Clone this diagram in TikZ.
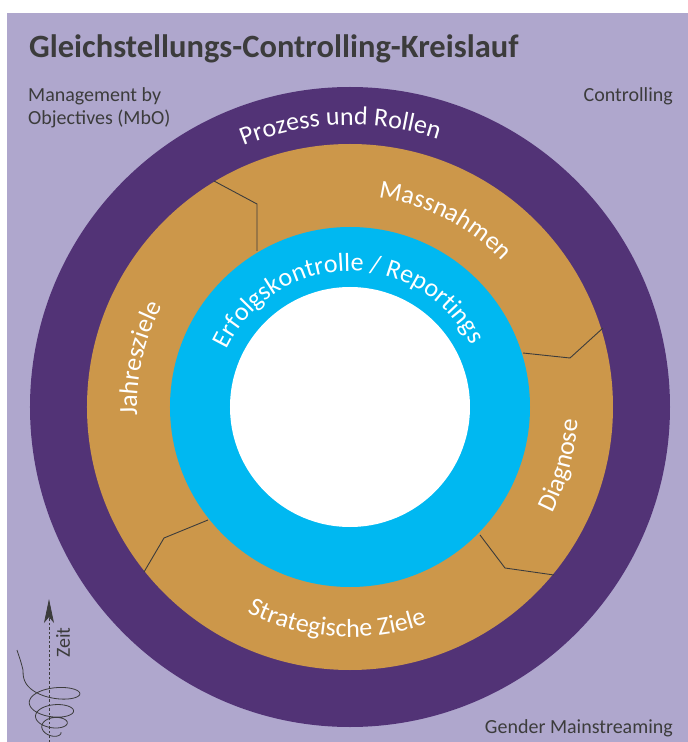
\documentclass[tikz,border=0pt]{standalone}
\usepackage{fontspec}
\setmainfont{Carlito}
\usepackage{xcolor}
\usetikzlibrary{positioning, decorations.text, arrows.meta}
\definecolor{lavender}{HTML}{AFA7CD}
\definecolor{ringpurple}{HTML}{523376}
\definecolor{ringorange}{HTML}{CC974A}
\definecolor{ringblue}{HTML}{00B8F1}
\definecolor{darktext}{HTML}{3C3C3C}
\newcommand{\ringfont}{\fontsize{26}{26}\selectfont}

\begin{document}
\begin{tikzpicture}
            [
            x=1pt, y=1pt,
            sidetext/.style={text=darktext, inner sep=0pt, font=\fontsize{20}{23}\selectfont},
            divider/.style={draw=darktext, line width=0.9pt},
            ringtext/.style={decorate, decoration={text along path, text align=center,
                text color=white, text={|\ringfont|#1}}},
            timearrow/.style={draw=darktext, line width=0.8pt, dash pattern=on 2.5pt off 2pt,
                -{Stealth[length=24pt, width=10pt, inset=6pt]}}
            ]
        \useasboundingbox (-350,407) rectangle (338,-335);
        \fill[lavender] (-343,394) rectangle (338,-335);
        % rings
        \fill[ringpurple] (0,0) circle (320);
        \fill[ringorange] (0,0) circle (263);
        \fill[ringblue] (0,0) circle (180);
        \fill[white] (0,0) circle (120);
        % segment borders
        \draw[divider] (-136,226) -- (-93,203) -- (-93,156);
        \draw[divider] (173,54) -- (220,49) -- (253,79);
        \draw[divider] (130,-128) -- (155,-161) -- (204,-168);
        \draw[divider] (-142,-113) -- (-186,-131) -- (-206,-165);
        % ring labels
        \path[ringtext={Prozess und Rollen}] (132:282) arc[start angle=132, end angle=52, radius=282];
        \path[ringtext={Massnahmen}] (108:211) arc[start angle=108, end angle=18, radius=211];
        \path[ringtext={Erfolgskontrolle / Reportings}] (176:136) arc[start angle=176, end angle=6, radius=136];
        \path[ringtext={Jahresziele}] (212:213) arc[start angle=212, end angle=122, radius=213];
        \path[ringtext={Diagnose}] (-60:228) arc[start angle=-60, end angle=29, radius=228];
        \path[ringtext={Strategische Ziele}] (216:230) arc[start angle=216, end angle=317, radius=230];
        % texts
        \node[anchor=base west, text=darktext, inner sep=0pt, font=\fontsize{32.5}{36}\selectfont\bfseries] (title) at (-321,349) {Gleichstellungs-Controlling-Kreislauf};
        \node[sidetext, anchor=base west] (mbo) at (-322,305) {Management by};
        \node[sidetext, anchor=base west] (mbotwo) at (-322,282) {Objectives (MbO)};
        \node[sidetext, anchor=base east] (ctrl) at (323,305) {Controlling};
        \node[sidetext, anchor=base east] (gm) at (323,-326) {Gender Mainstreaming};
        % time spiral
        \coordinate (zeitfoot) at (-301,-335);
        \coordinate (zeittip) at (-301,-192);
        \draw[timearrow] (zeitfoot) -- (zeittip);
        \node[sidetext, font=\fontsize{20}{20}\selectfont, rotate=90, anchor=base west] (zeit) at (-280,-251) {Zeit};
        \draw[darktext, line width=0.8pt] (-333,-243) .. controls (-329,-255) .. (-327,-263)
            -- plot[domain=0:1, samples=300, variable=\s]
            ({-297 + (30-22*\s)*cos(1260*\s+180)}, {-263 - 62*sqrt(\s) + (12-6*\s)*sin(1260*\s+180)});
\end{tikzpicture}
\end{document}
